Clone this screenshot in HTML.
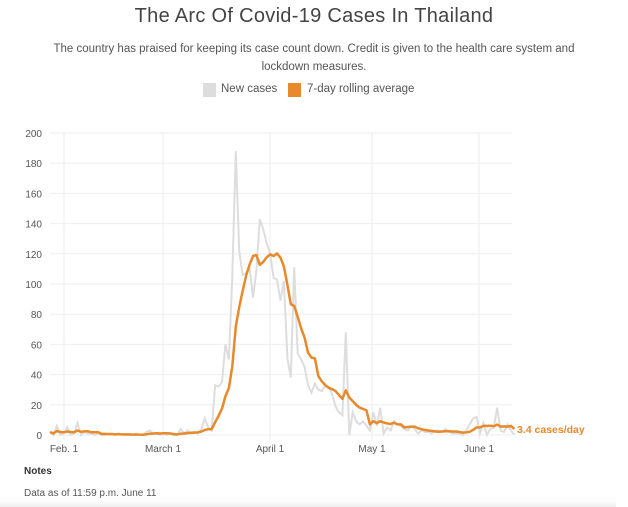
<!DOCTYPE html>
<html><head><meta charset="utf-8"><style>
body{margin:0;width:628px;height:507px;background:#fff;font-family:"Liberation Sans",sans-serif;overflow:hidden;position:relative}
.t{position:absolute;left:0;width:628px;text-align:center;color:#555}
</style></head><body>
<div class="t" style="top:5px;font-size:20px;color:#444;letter-spacing:0.3px">The Arc Of Covid-19 Cases In Thailand</div>
<div class="t" style="top:40px;font-size:11.5px;line-height:18px;color:#555">The country has praised for keeping its case count down. Credit is given to the health care system and<br>lockdown measures.</div>
<div style="position:absolute;top:83px;left:203px;width:13px;height:14px;background:#ddd"></div>
<div style="position:absolute;top:83px;left:221px;font-size:11.5px;color:#555">New cases</div>
<div style="position:absolute;top:83px;left:288px;width:13px;height:14px;background:#e8892b"></div>
<div style="position:absolute;top:83px;left:307px;font-size:11.5px;color:#555">7-day rolling average</div>
<svg id="s" width="628" height="507" style="position:absolute;left:0;top:0"></svg>
<div style="position:absolute;top:466px;left:24px;font-size:10px;font-weight:bold;color:#333">Notes</div>
<div style="position:absolute;top:488px;left:24px;font-size:10px;color:#555">Data as of 11:59 p.m. June 11</div>
<div style="position:absolute;left:0;top:500px;width:616px;height:7px;background:linear-gradient(#fff,#eee)"></div>
<script>
var g=[5,1,5,2,0,6,0,1,5,0,1,8,0,2,1,1,0,1,0,0,1,1,0,1,0,0,0,0,1,0,0,2,3,1,1,0,1,0,1,0,0,4,1,3,1,2,1,4,11,5,3,33,32,35,60,50,105,188,122,106,107,111,91,109,143,136,127,120,104,103,89,102,51,38,111,54,50,45,33,28,34,30,29,33,32,27,19,15,13,68,0,15,9,7,9,6,3,15,6,18,1,5,3,9,7,6,4,3,6,4,1,3,2,2,1,3,3,2,4,2,1,1,1,0,3,7,11,12,1,8,0,4,5,18,3,2,7,3,0];
g.splice(0,3);
var x0=50,dx=3.44,y0=435,k=1.51;
function X(i){return x0+i*dx}function Y(v){return y0-v*k}
var s='';
[0,20,40,60,80,100,120,140,160,180,200].forEach(function(v){s+='<line x1="50" x2="512" y1="'+Y(v)+'" y2="'+Y(v)+'" stroke="#eee"/><text x="42" y="'+(Y(v)+4)+'" font-size="10" fill="#555" text-anchor="end">'+v+'</text>';});
[[64,'Feb. 1'],[163,'March 1'],[270,'April 1'],[372,'May 1'],[479,'June 1']].forEach(function(a){s+='<line x1="'+a[0]+'" x2="'+a[0]+'" y1="133" y2="440" stroke="#eee"/><text x="'+a[0]+'" y="452" font-size="10" fill="#555" text-anchor="middle">'+a[1]+'</text>';});
var p=g.map(function(v,i){return X(i).toFixed(1)+','+Y(v).toFixed(1)}).join(' ');
s+='<polyline points="'+p+'" fill="none" stroke="#ddd" stroke-width="2"/>';
var q=[];for(var i=0;i<g.length;i++){var a=Math.max(0,i-6),t=0;for(var j=a;j<=i;j++)t+=g[j];var m=t/(i-a+1);if(i==g.length-1)m=4;q.push(X(i).toFixed(1)+','+Y(m).toFixed(1));}
s+='<polyline points="'+q.join(' ')+'" fill="none" stroke="#e8892b" stroke-width="2.5" stroke-linejoin="round"/>';
s+='<text x="517" y="433" font-size="10.5" font-weight="bold" fill="#e8892b">3.4 cases/day</text>';
document.getElementById('s').innerHTML=s;
</script>
</body></html>
